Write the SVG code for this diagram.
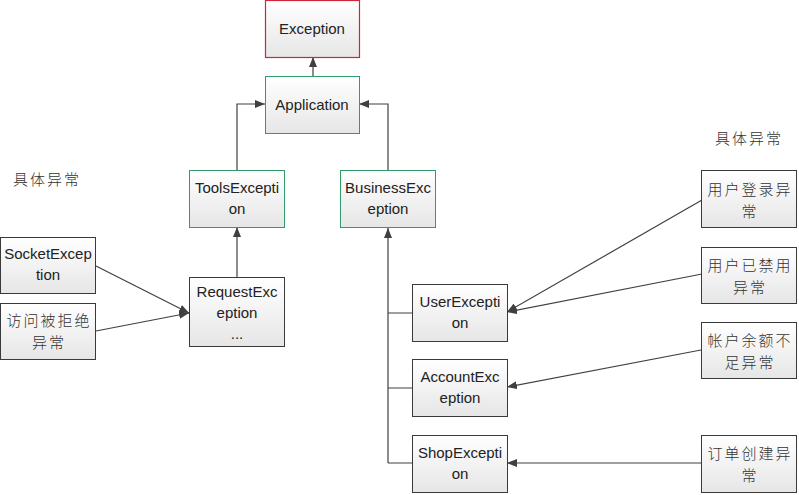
<svg xmlns="http://www.w3.org/2000/svg" width="799" height="495" viewBox="0 0 799 495">
<style>
.box{fill:url(#g);stroke:#3a3a3a;stroke-width:1}
.box.red{stroke:#d2233a;stroke-width:1.2}
.box.grn{stroke:#2f9a6c}
.t{font-family:"Liberation Sans","Noto Sans",sans-serif;font-size:15px;fill:#222;text-anchor:middle}
.c{font-family:"Noto Sans CJK SC",sans-serif;font-size:15px;letter-spacing:2px;fill:#333;text-anchor:middle;font-weight:300}
.lbl{font-family:"Noto Sans CJK SC",sans-serif;font-size:15px;letter-spacing:2px;fill:#333;font-weight:300}
.ln{fill:none;stroke:#404040;stroke-width:1.2}
.ar{fill:none;stroke:#404040;stroke-width:1.2;marker-end:url(#a)}
</style>
<defs>
<linearGradient id="g" x1="0" y1="0" x2="0" y2="1">
<stop offset="0" stop-color="#ffffff"/>
<stop offset="1" stop-color="#e6e6e6"/>
</linearGradient>
<marker id="a" viewBox="0 0 10 8" refX="10" refY="4" markerWidth="10" markerHeight="8" markerUnits="userSpaceOnUse" orient="auto">
<path d="M0,0 L10,4 L0,8 z" fill="#404040"/>
</marker>
</defs>
<rect width="799" height="495" fill="#fff"/>
<g id="connectors">
<path class="ar" d="M313,76 V57"/>
<path class="ar" d="M237,170 V104 H265"/>
<path class="ar" d="M388,170 V104 H359"/>
<path class="ar" d="M237,277 V227"/>
<path class="ar" d="M96,266 L189,313"/>
<path class="ar" d="M96,331 L189,313"/>
<path class="ar" d="M388,463 V228"/>
<path class="ln" d="M388,313 H412 M388,388 H412 M388,463 H412"/>
<path class="ar" d="M702,200 L507,312"/>
<path class="ar" d="M702,274 L507,312"/>
<path class="ar" d="M701,350 L507,387"/>
<path class="ar" d="M701,463 L507,463"/>
</g>
<g id="exception"><rect class="box red" x="265.5" y="0.5" width="94" height="57"/><text class="t" x="312" y="34">Exception</text></g>
<g id="application"><rect class="box grn" x="265.5" y="76.5" width="94" height="57"/><text class="t" x="312" y="110">Application</text></g>
<g id="tools"><rect class="box grn" x="189.5" y="170.5" width="95" height="57"/><text class="t" x="237" y="193">ToolsExcepti</text><text class="t" x="237" y="214">on</text></g>
<g id="business"><rect class="box grn" x="340.5" y="170.5" width="95" height="57"/><text class="t" x="388" y="193">BusinessExc</text><text class="t" x="388" y="214">eption</text></g>
<g id="request"><rect class="box" x="189.5" y="277.5" width="95" height="69"/><text class="t" x="237" y="297">RequestExc</text><text class="t" x="237" y="318">eption</text><text class="t" x="237" y="339">...</text></g>
<g id="socket"><rect class="box" x="0.5" y="237.5" width="95" height="56"/><text class="t" x="48" y="259">SocketExcep</text><text class="t" x="48" y="280">tion</text></g>
<g id="denied"><rect class="box" x="0.5" y="303.5" width="95" height="56"/><text class="c" x="49" y="326">访问被拒绝</text><text class="c" x="49" y="348">异常</text></g>
<g id="user"><rect class="box" x="412.5" y="284.5" width="95" height="57"/><text class="t" x="460" y="307">UserExcepti</text><text class="t" x="460" y="328">on</text></g>
<g id="account"><rect class="box" x="412.5" y="359.5" width="95" height="57"/><text class="t" x="460" y="382">AccountExc</text><text class="t" x="460" y="403">eption</text></g>
<g id="shop"><rect class="box" x="412.5" y="435.5" width="95" height="57"/><text class="t" x="460" y="458">ShopExcepti</text><text class="t" x="460" y="479">on</text></g>
<g id="login"><rect class="box" x="701.5" y="170.5" width="95" height="57"/><text class="c" x="750" y="195">用户登录异</text><text class="c" x="750" y="217">常</text></g>
<g id="banned"><rect class="box" x="701.5" y="247.5" width="95" height="56"/><text class="c" x="750" y="271">用户已禁用</text><text class="c" x="750" y="293">异常</text></g>
<g id="balance"><rect class="box" x="701.5" y="322.5" width="95" height="56"/><text class="c" x="750" y="346">帐户余额不</text><text class="c" x="750" y="368">足异常</text></g>
<g id="order"><rect class="box" x="701.5" y="435.5" width="95" height="57"/><text class="c" x="750" y="459">订单创建异</text><text class="c" x="750" y="481">常</text></g>
<text class="lbl" x="13" y="185">具体异常</text>
<text class="lbl" x="715" y="144">具体异常</text>
</svg>
